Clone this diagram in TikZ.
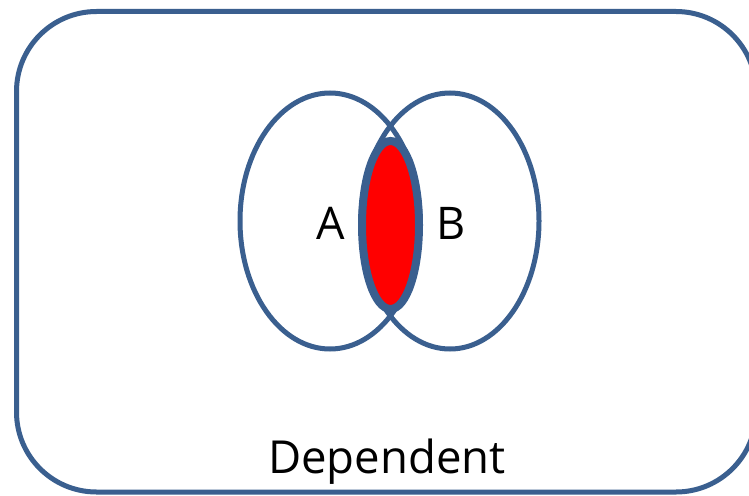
\documentclass[tikz,border=0pt]{standalone}
\usepackage{fontspec}
\setmainfont{Open Sans}
\usetikzlibrary{shapes.geometric}
\definecolor{frameblue}{HTML}{3A5F8F}
\definecolor{fillred}{HTML}{FF0000}
\begin{document}
\begin{tikzpicture}[x=1pt,y=-1pt,
  setline/.style={draw=frameblue,line width=5pt,ellipse,inner sep=0pt},
  lbl/.style={font=\fontsize{45}{50}\selectfont,inner sep=0pt}]
\useasboundingbox (0,0) rectangle (749,495);
\clip (0,0) rectangle (749,495);
\fill[white] (0,0) rectangle (749,495);
\node[draw=frameblue,line width=5pt,rounded corners=80pt,minimum width=739.5pt,minimum height=480.5pt,inner sep=0pt] (frame) at (386.25,251.75) {};
\node[setline,minimum width=180pt,minimum height=256pt] (setA) at (330,221) {};
\node[setline,minimum width=178pt,minimum height=256pt] (setB) at (450,221) {};
\node[draw=frameblue,fill=fillred,line width=8pt,ellipse,inner sep=0pt,minimum width=57pt,minimum height=168pt] (inter) at (390.5,225) {};
\node[lbl] (labA) at (330.5,223) {A};
\node[lbl] (labB) at (451,223) {B};
\node[lbl,anchor=base,font=\fontsize{45.5}{50}\selectfont] (dep) at (387,473) {Dependent};
\end{tikzpicture}
\end{document}
